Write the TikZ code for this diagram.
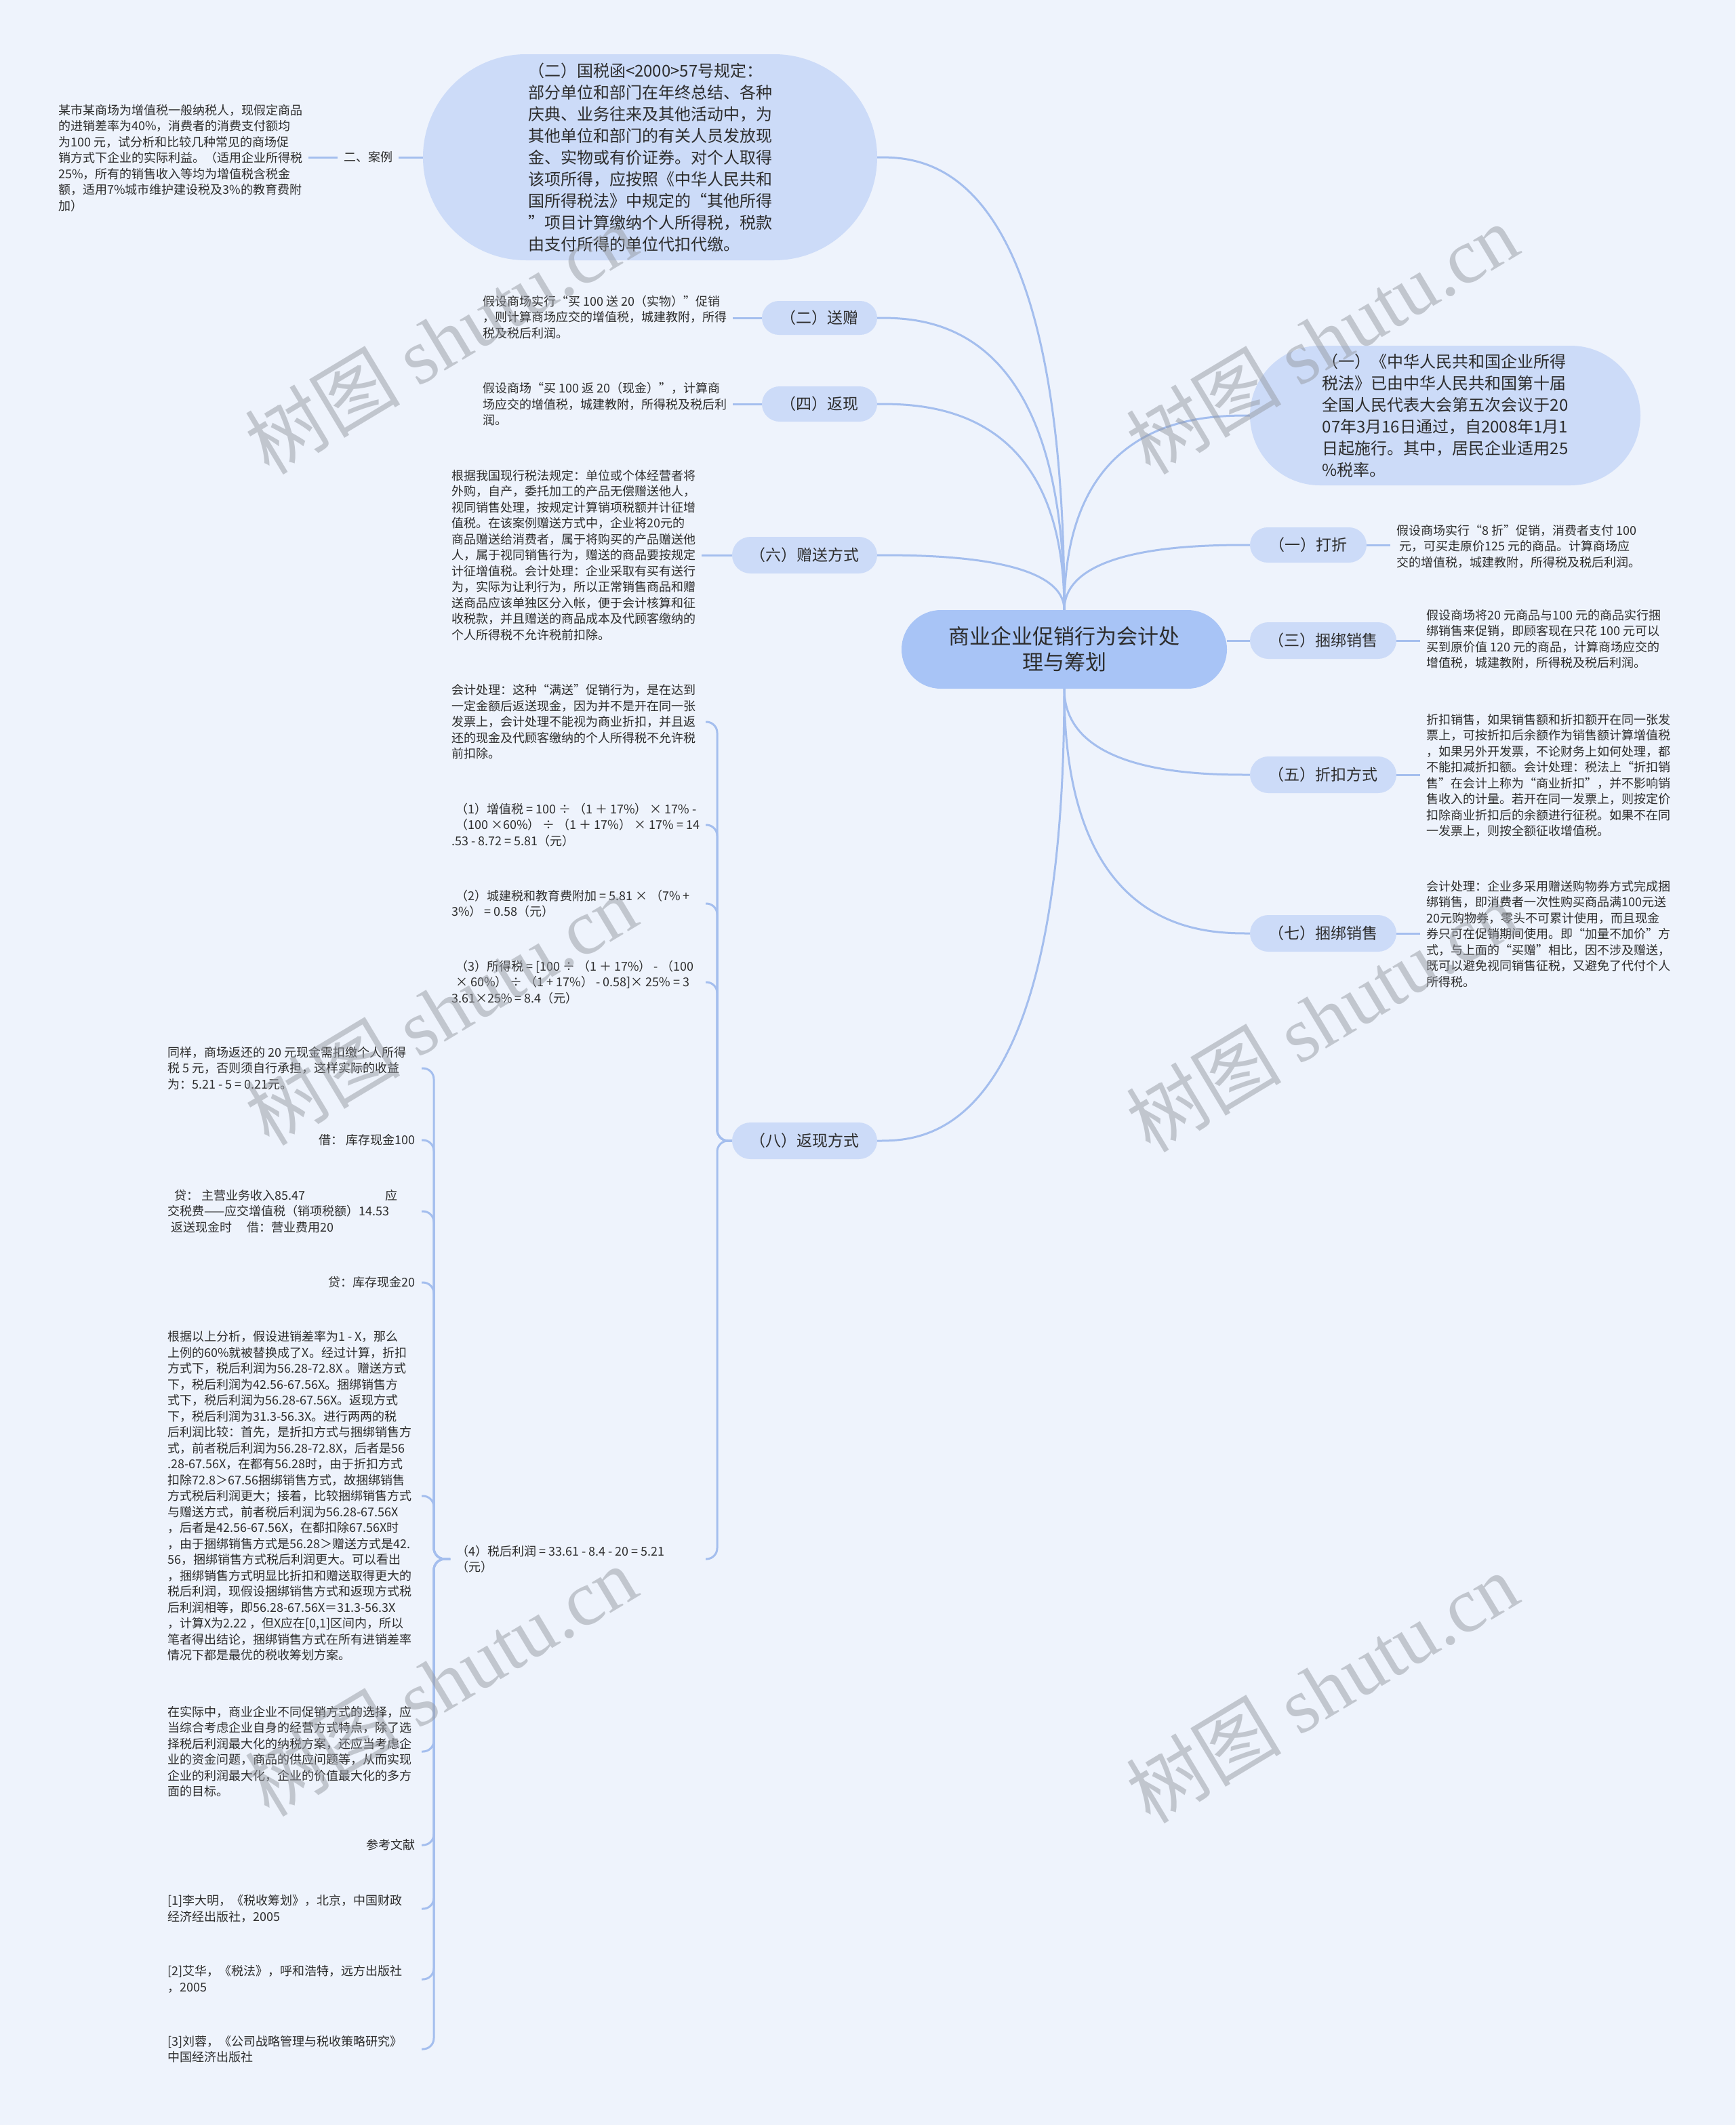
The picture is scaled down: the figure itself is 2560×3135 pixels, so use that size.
\documentclass[tikz,border=0pt]{standalone}
\usepackage{fontspec}
\setmainfont{Noto Sans CJK SC}
\newfontfamily\wmfont{Liberation Serif}
\usetikzlibrary{shapes.misc,calc}
\definecolor{bgC}{RGB}{238,243,252}
\definecolor{bubC}{RGB}{204,219,248}
\definecolor{rootC}{RGB}{168,196,246}
\definecolor{lineC}{RGB}{164,190,238}
\definecolor{txtC}{RGB}{45,45,45}
\definecolor{wmC}{RGB}{150,154,162}
\tikzset{
  conn/.style={draw=lineC, line width=3pt},
  hookc/.style={conn, rounded corners=16pt},
  bub/.style={rounded rectangle, fill=bubC, inner sep=0pt, text=txtC, font=\fontsize{23}{28}\selectfont},
  big/.style={rounded rectangle, fill=bubC, inner sep=0pt, align=left, text=txtC, font=\fontsize{24}{32}\selectfont},
  root/.style={rounded rectangle, fill=rootC, inner sep=0pt, align=center, text=txtC, font=\fontsize{31}{38}\selectfont},
  leaf/.style={inner xsep=9pt, inner ysep=3pt, align=left, text=txtC, font=\fontsize{18}{23.5}\selectfont},
  leafr/.style={leaf, align=right},
  wm/.style={rotate=31, text=wmC, opacity=0.5, font=\fontsize{115}{115}\selectfont}
}
\newcommand\bcurve[2]{\draw[conn] (#1) .. controls (#1 |- #2) and ($(#1 |- #2)!0.75!(#2)$) .. (#2);}
\begin{document}
\begin{tikzpicture}[x=1pt,y=-1pt]
\useasboundingbox (0,0) rectangle (2560,3135);
\fill[bgC] (0,0) rectangle (2560,3135);

% root
\node[root, minimum width=480pt, minimum height=116pt] (root) at (1570,958) {商业企业促销行为会计处\\理与筹划};

% top-left big bubble
\node[big, minimum width=670pt, minimum height=304pt] (gs) at (959,232) {（二）国税函<2000>57号规定：\\部分单位和部门在年终总结、各种\\庆典、业务往来及其他活动中，为\\其他单位和部门的有关人员发放现\\金、实物或有价证券。对个人取得\\该项所得，应按照《中华人民共和\\国所得税法》中规定的“其他所得\\”项目计算缴纳个人所得税，税款\\由支付所得的单位代扣代缴。};
\node[leaf] (al) at (543,232) {二、案例};
\node[leaf, anchor=west] (case) at (77,233) {某市某商场为增值税一般纳税人，现假定商品\\的进销差率为40\%，消费者的消费支付额均\\为100 元，试分析和比较几种常见的商场促\\销方式下企业的实际利益。（适用企业所得税\\25\%，所有的销售收入等均为增值税含税金\\额，适用7\%城市维护建设税及3\%的教育费附\\加）};

% left branches
\node[bub, minimum width=170pt, minimum height=50pt] (sz) at (1209,469) {（二）送赠};
\node[leaf, anchor=west] (szl) at (703,468) {假设商场实行“买 100 送 20（实物）”促销\\，则计算商场应交的增值税，城建教附，所得\\税及税后利润。};
\node[bub, minimum width=170pt, minimum height=52pt] (fx) at (1209,596) {（四）返现};
\node[leaf, anchor=west] (fxl) at (703,596) {假设商场“买 100 返 20（现金）”，计算商\\场应交的增值税，城建教附，所得税及税后利\\润。};
\node[bub, minimum width=214pt, minimum height=54pt] (zs) at (1187,819) {（六）赠送方式};
\node[leaf, anchor=west] (zsl) at (657,819) {根据我国现行税法规定：单位或个体经营者将\\外购，自产，委托加工的产品无偿赠送他人，\\视同销售处理，按规定计算销项税额并计征增\\值税。在该案例赠送方式中，企业将20元的\\商品赠送给消费者，属于将购买的产品赠送他\\人，属于视同销售行为，赠送的商品要按规定\\计征增值税。会计处理：企业采取有买有送行\\为，实际为让利行为，所以正常销售商品和赠\\送商品应该单独区分入帐，便于会计核算和征\\收税款，并且赠送的商品成本及代顾客缴纳的\\个人所得税不允许税前扣除。};
\node[bub, minimum width=214pt, minimum height=54pt] (fx8) at (1187,1683) {（八）返现方式};

% children of (8)
\coordinate (s8) at (1058,1683);
\coordinate (h8) at (1041,0);
\node[leaf, anchor=west] (e1) at (657,1065) {会计处理：这种“满送”促销行为，是在达到\\一定金额后返送现金，因为并不是开在同一张\\发票上，会计处理不能视为商业折扣，并且返\\还的现金及代顾客缴纳的个人所得税不允许税\\前扣除。};
\node[leaf, anchor=west] (e2) at (657,1217) {\hspace*{6pt}（1）增值税 = 100 ÷ （1 ＋ 17\%） × 17\% -\\\hspace*{6pt}（100 ×60\%） ÷ （1 ＋ 17\%） × 17\% = 14\\.53 - 8.72 = 5.81（元）};
\node[leaf, anchor=west] (e3) at (657,1333) {\hspace*{6pt}（2）城建税和教育费附加 = 5.81 × （7\% +\\3\%） = 0.58（元）};
\node[leaf, anchor=west] (e4) at (657,1449) {\hspace*{6pt}（3）所得税 = [100 ÷ （1 ＋ 17\%） - （100\\\hspace*{6pt}× 60\%） ÷ （1 + 17\%） - 0.58]× 25\% = 3\\3.61×25\% = 8.4（元）};
\node[leaf, anchor=west] (e5) at (664,2300) {（4）税后利润 = 33.61 - 8.4 - 20 = 5.21\\（元）};

% children of (4)
\coordinate (s4) at (640,2300);
\coordinate (h4) at (622,0);
\node[leaf, anchor=west] (f1) at (238,1576) {同样，商场返还的 20 元现金需扣缴个人所得\\税 5 元，否则须自行承担，这样实际的收益\\为：5.21 - 5 = 0.21元。};
\node[leafr, anchor=east] (f2) at (622,1682) {借： 库存现金100};
\node[leaf, anchor=west] (f3) at (238,1787) {\hspace*{10pt}贷： 主营业务收入85.47\hspace{118pt}应\\交税费——应交增值税（销项税额）14.53\\\hspace*{5pt}返送现金时\hspace{22pt}借：营业费用20};
\node[leafr, anchor=east] (f4) at (622,1892) {贷：库存现金20};
\node[leaf, anchor=west] (f5) at (238,2207) {根据以上分析，假设进销差率为1 - X，那么\\上例的60\%就被替换成了X。经过计算，折扣\\方式下，税后利润为56.28-72.8X 。赠送方式\\下，税后利润为42.56-67.56X。捆绑销售方\\式下，税后利润为56.28-67.56X。返现方式\\下，税后利润为31.3-56.3X。进行两两的税\\后利润比较：首先，是折扣方式与捆绑销售方\\式，前者税后利润为56.28-72.8X，后者是56\\.28-67.56X，在都有56.28时，由于折扣方式\\扣除72.8＞67.56捆绑销售方式，故捆绑销售\\方式税后利润更大；接着，比较捆绑销售方式\\与赠送方式，前者税后利润为56.28-67.56X\\，后者是42.56-67.56X，在都扣除67.56X时\\，由于捆绑销售方式是56.28＞赠送方式是42.\\56，捆绑销售方式税后利润更大。可以看出\\，捆绑销售方式明显比折扣和赠送取得更大的\\税后利润，现假设捆绑销售方式和返现方式税\\后利润相等，即56.28-67.56X＝31.3-56.3X\\，计算X为2.22 ，但X应在[0,1]区间内，所以\\笔者得出结论，捆绑销售方式在所有进销差率\\情况下都是最优的税收筹划方案。};
\node[leaf, anchor=west] (f6) at (238,2584) {在实际中，商业企业不同促销方式的选择，应\\当综合考虑企业自身的经营方式特点，除了选\\择税后利润最大化的纳税方案，还应当考虑企\\业的资金问题，商品的供应问题等，从而实现\\企业的利润最大化，企业的价值最大化的多方\\面的目标。};
\node[leafr, anchor=east] (f7) at (622,2722) {参考文献};
\node[leaf, anchor=west] (f8) at (238,2816) {[1]李大明，《税收筹划》，北京，中国财政\\经济经出版社，2005};
\node[leaf, anchor=west] (f9) at (238,2920) {[2]艾华，《税法》，呼和浩特，远方出版社\\，2005};
\node[leaf, anchor=west] (f10) at (238,3023) {[3]刘蓉，《公司战略管理与税收策略研究》\\中国经济出版社};

% right side
\node[big, minimum width=576pt, minimum height=206pt] (zh) at (2132,613) {（一）《中华人民共和国企业所得\\税法》已由中华人民共和国第十届\\全国人民代表大会第五次会议于20\\07年3月16日通过，自2008年1月1\\日起施行。其中，居民企业适用25\\\%税率。};
\node[bub, minimum width=172pt, minimum height=52pt] (dz) at (1930,804) {（一）打折};
\node[leaf, anchor=west] (dzl) at (2051,806) {假设商场实行“8 折”促销，消费者支付 100\\\hspace*{4pt}元，可买走原价125 元的商品。计算商场应\\交的增值税，城建教附，所得税及税后利润。};
\node[bub, minimum width=216pt, minimum height=54pt] (k3) at (1952,945) {（三）捆绑销售};
\node[leaf, anchor=west] (k3l) at (2095,943) {假设商场将20 元商品与100 元的商品实行捆\\绑销售来促销，即顾客现在只花 100 元可以\\买到原价值 120 元的商品，计算商场应交的\\增值税，城建教附，所得税及税后利润。};
\node[bub, minimum width=216pt, minimum height=54pt] (z5) at (1952,1143) {（五）折扣方式};
\node[leaf, anchor=west] (z5l) at (2095,1144) {折扣销售，如果销售额和折扣额开在同一张发\\票上，可按折扣后余额作为销售额计算增值税\\，如果另外开发票，不论财务上如何处理，都\\不能扣减折扣额。会计处理：税法上“折扣销\\售”在会计上称为“商业折扣”，并不影响销\\售收入的计量。若开在同一发票上，则按定价\\扣除商业折扣后的余额进行征税。如果不在同\\一发票上，则按全额征收增值税。};
\node[bub, minimum width=216pt, minimum height=54pt] (k7) at (1952,1377) {（七）捆绑销售};
\node[leaf, anchor=west] (k7l) at (2095,1378) {会计处理：企业多采用赠送购物券方式完成捆\\绑销售，即消费者一次性购买商品满100元送\\20元购物券，零头不可累计使用，而且现金\\券只可在促销期间使用。即“加量不加价”方\\式，与上面的“买赠”相比，因不涉及赠送，\\既可以避免视同销售征税，又避免了代付个人\\所得税。};

% main connectors
\bcurve{root.north}{gs.east}
\bcurve{root.north}{sz.east}
\bcurve{root.north}{fx.east}
\bcurve{root.north}{zs.east}
\bcurve{root.south}{fx8.east}
\bcurve{root.north}{zh.west}
\bcurve{root.north}{dz.west}
\draw[conn] (k3.west) -- (k3.west -| root.east);
\bcurve{root.south}{z5.west}
\bcurve{root.south}{k7.west}

% leaf connectors
\draw[conn] (gs.west) -- (al.east);
\draw[conn] (al.west) -- (al.west -| case.east);
\draw[conn] (sz.west) -- (sz.west -| szl.east);
\draw[conn] (fx.west) -- (fx.west -| fxl.east);
\draw[conn] (zs.west) -- (zs.west -| zsl.east);
\draw[conn] (dz.east) -- (dz.east -| dzl.west);
\draw[conn] (k3.east) -- (k3.east -| k3l.west);
\draw[conn] (z5.east) -- (z5.east -| z5l.west);
\draw[conn] (k7.east) -- (k7.east -| k7l.west);

\foreach \c in {e1,e2,e3,e4,e5}
  \draw[hookc] (fx8.west) -- (s8) -- (s8 |- \c.east) -- (\c.east -| h8);
\foreach \c in {f1,f2,f3,f4,f5,f6,f7,f8,f9,f10}
  \draw[hookc] (e5.west) -- (s4) -- (s4 |- \c.east) -- (\c.east -| h4);

% watermarks
\node[wm] (w1) at (650,500) {树图 {\wmfont shutu.cn}};
\node[wm] (w2) at (1950,500) {树图 {\wmfont shutu.cn}};
\node[wm] (w3) at (650,1490) {树图 {\wmfont shutu.cn}};
\node[wm] (w4) at (1950,1500) {树图 {\wmfont shutu.cn}};
\node[wm] (w5) at (650,2480) {树图 {\wmfont shutu.cn}};
\node[wm] (w6) at (1950,2490) {树图 {\wmfont shutu.cn}};
\end{tikzpicture}
\end{document}
